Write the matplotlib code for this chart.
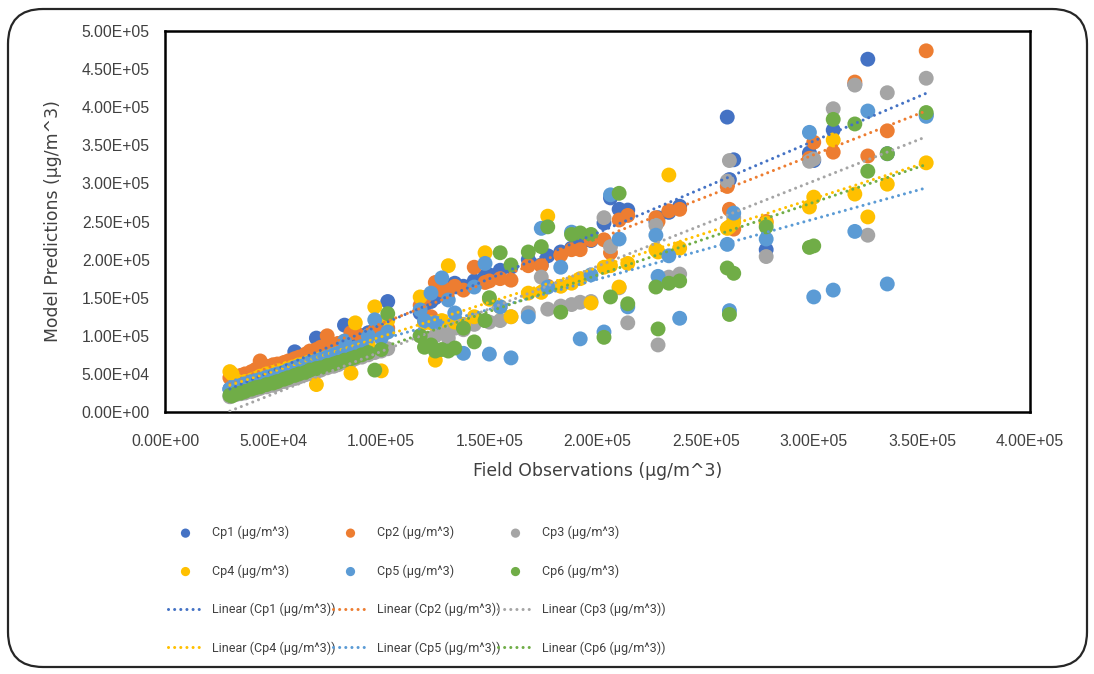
import numpy as np
import matplotlib.pyplot as plt
from matplotlib.patches import FancyBboxPatch
from matplotlib.ticker import FuncFormatter, MultipleLocator

# Field observations (ug/m^3, in thousands)
obs = [30, 31, 33, 35, 37, 40, 42, 44, 47, 50, 52, 55, 57, 60, 62, 65, 67, 70, 72, 75,
       78, 80, 83, 86, 88, 91, 94, 97, 100, 103,
       118, 120, 123, 125, 128, 131, 134, 138, 143, 148, 150, 155, 160, 168, 174, 177,
       183, 188, 192, 197, 203, 206, 210, 214, 227, 228, 233, 238,
       260, 261, 263, 278, 298, 300, 309, 319, 325, 334, 352]

# Model predictions for each model (thousands)
cp1 = [30, 28, 30, 33, 36, 38, 40, 42, 45, 48, 50, 55, 57, 79, 62, 66, 69, 97, 76, 80,
       84, 86, 114, 92, 96, 100, 104, 108, 112, 145,
       130, 140, 145, 150, 155, 160, 169, 165, 172, 178, 180, 186, 190, 200, 193, 205,
       210, 215, 220, 225, 248, 281, 266, 265, 250, 255, 262, 270,
       387, 305, 331, 213, 340, 330, 370, 430, 463, 339, 390]
cp2 = [45, 42, 44, 48, 50, 53, 56, 67, 60, 62, 63, 65, 67, 70, 72, 76, 80, 82, 85, 100,
       88, 90, 93, 104, 105, 98, 100, 107, 108, 110,
       140, 150, 125, 170, 160, 160, 165, 160, 190, 170, 172, 175, 173, 192, 192, 165,
       206, 213, 213, 226, 226, 209, 252, 258, 255, 250, 264, 266,
       296, 266, 240, 250, 333, 354, 341, 433, 336, 369, 474]
cp3 = [20, 22, 23, 24, 25, 27, 29, 31, 33, 35, 37, 40, 42, 44, 46, 49, 51, 53, 55, 58,
       60, 62, 65, 67, 70, 72, 75, 78, 80, 83,
       100, 97, 95, 100, 105, 97, 110, 108, 115, 120, 118, 120, 125, 130, 177, 135,
       139, 141, 144, 145, 255, 217, 163, 117, 245, 88, 177, 181,
       303, 330, 255, 204, 329, 332, 398, 429, 232, 419, 438]
cp4 = [53, 50, 41, 38, 40, 42, 44, 47, 50, 52, 54, 56, 58, 60, 62, 64, 66, 36, 70, 72,
       75, 77, 80, 51, 117, 85, 88, 138, 54, 120,
       151, 117, 117, 68, 120, 192, 118, 115, 125, 209, 148, 138, 125, 156, 157, 257,
       165, 169, 175, 143, 190, 192, 164, 195, 213, 210, 311, 215,
       241, 243, 249, 248, 269, 282, 357, 286, 256, 299, 327]
cp5 = [30, 32, 33, 35, 37, 40, 41, 43, 46, 48, 50, 52, 55, 58, 60, 62, 65, 67, 69, 72,
       75, 77, 93, 80, 84, 86, 100, 121, 97, 105,
       134, 120, 156, 117, 176, 147, 130, 77, 164, 195, 76, 138, 71, 125, 241, 164,
       190, 236, 96, 180, 105, 285, 227, 138, 232, 178, 205, 123,
       220, 133, 261, 227, 367, 151, 160, 237, 395, 168, 388]
cp6 = [22, 21, 24, 25, 27, 30, 32, 33, 36, 38, 40, 43, 45, 48, 50, 52, 55, 57, 58, 61,
       63, 65, 68, 70, 72, 75, 78, 55, 82, 129,
       100, 85, 88, 80, 82, 80, 84, 110, 92, 120, 150, 209, 193, 210, 217, 243,
       131, 233, 235, 233, 98, 151, 287, 142, 164, 109, 169, 172,
       189, 128, 182, 243, 216, 218, 384, 378, 316, 339, 393]

names = ["Cp1 (µg/m^3)", "Cp2 (µg/m^3)", "Cp3 (µg/m^3)",
         "Cp4 (µg/m^3)", "Cp5 (µg/m^3)", "Cp6 (µg/m^3)"]
colors = ["#4472C4", "#ED7D31", "#A5A5A5", "#FFC000", "#5B9BD5", "#70AD47"]

plt.rcParams['font.family'] = ['Liberation Sans', 'DejaVu Sans']
txt = "#404040"

fig = plt.figure(figsize=(10.94, 6.74), dpi=100)
fig.patches.append(FancyBboxPatch((8 / 1094, 7 / 674), 1079 / 1094, 658 / 674,
                                  boxstyle="round,pad=0,rounding_size=0.032",
                                  mutation_aspect=1094 / 674,
                                  transform=fig.transFigure, fill=False,
                                  edgecolor="#262626", linewidth=1.6))
ax = fig.add_axes([165 / 1094, 1 - 412 / 674, 865 / 1094, 381 / 674])

x = np.array(obs) * 1000.0
all_series = [cp1, cp2, cp3, cp4, cp5, cp6]
pts = []
fits = []
for ys, name, c in zip(all_series, names, colors):
    y = np.array(ys) * 1000.0
    h = ax.scatter(x, y, s=115, color=c, edgecolors="none", zorder=2, label=name)
    pts.append(h)
for ys, name, c in zip(all_series, names, colors):
    y = np.array(ys) * 1000.0
    k, b = np.polyfit(x, y, 1)
    xs = np.array([x.min(), x.max()])
    ln, = ax.plot(xs, k * xs + b, color=c, linestyle=(0, (0.01, 2.0)), linewidth=2.2,
                  dash_capstyle="round", zorder=3, label="Linear (" + name + ")")
    fits.append(ln)

ax.set_xlim(0, 4e5)
ax.set_ylim(0, 5e5)
ax.xaxis.set_major_locator(MultipleLocator(5e4))
ax.yaxis.set_major_locator(MultipleLocator(5e4))
fmt = FuncFormatter(lambda v, p: f"{v:.2E}")
ax.xaxis.set_major_formatter(fmt)
ax.yaxis.set_major_formatter(fmt)
ax.tick_params(length=0, labelsize=11.3, labelcolor=txt)
ax.tick_params(axis="x", pad=16)
ax.tick_params(axis="y", pad=11)
for s in ax.spines.values():
    s.set_linewidth(1.8)
    s.set_color("black")

ax.set_xlabel("Field Observations (µg/m^3)", fontsize=12.4, color=txt, labelpad=9,
              family="DejaVu Sans")
ax.set_ylabel("Model Predictions (µg/m^3)", fontsize=12.4, color=txt, labelpad=14,
              family="DejaVu Sans")

# legend: three fixed columns, rows go Cp1-3, Cp4-6, then the trendlines
col_x = [168, 333, 498]
for j in range(3):
    hs = [pts[j], pts[j + 3], fits[j], fits[j + 3]]
    leg = fig.legend(handles=hs, labels=[h.get_label() for h in hs],
                     loc="upper left", bbox_to_anchor=(col_x[j] / 1094, 1 - 526 / 674),
                     frameon=False, markerscale=0.62, handlelength=2.8,
                     handletextpad=0.7, labelspacing=2.0,
                     borderpad=0, borderaxespad=0, scatterpoints=1,
                     prop={"family": "Roboto", "size": 9.0})
    for t in leg.get_texts():
        t.set_color(txt)

fig.savefig("out.png", dpi=100)
